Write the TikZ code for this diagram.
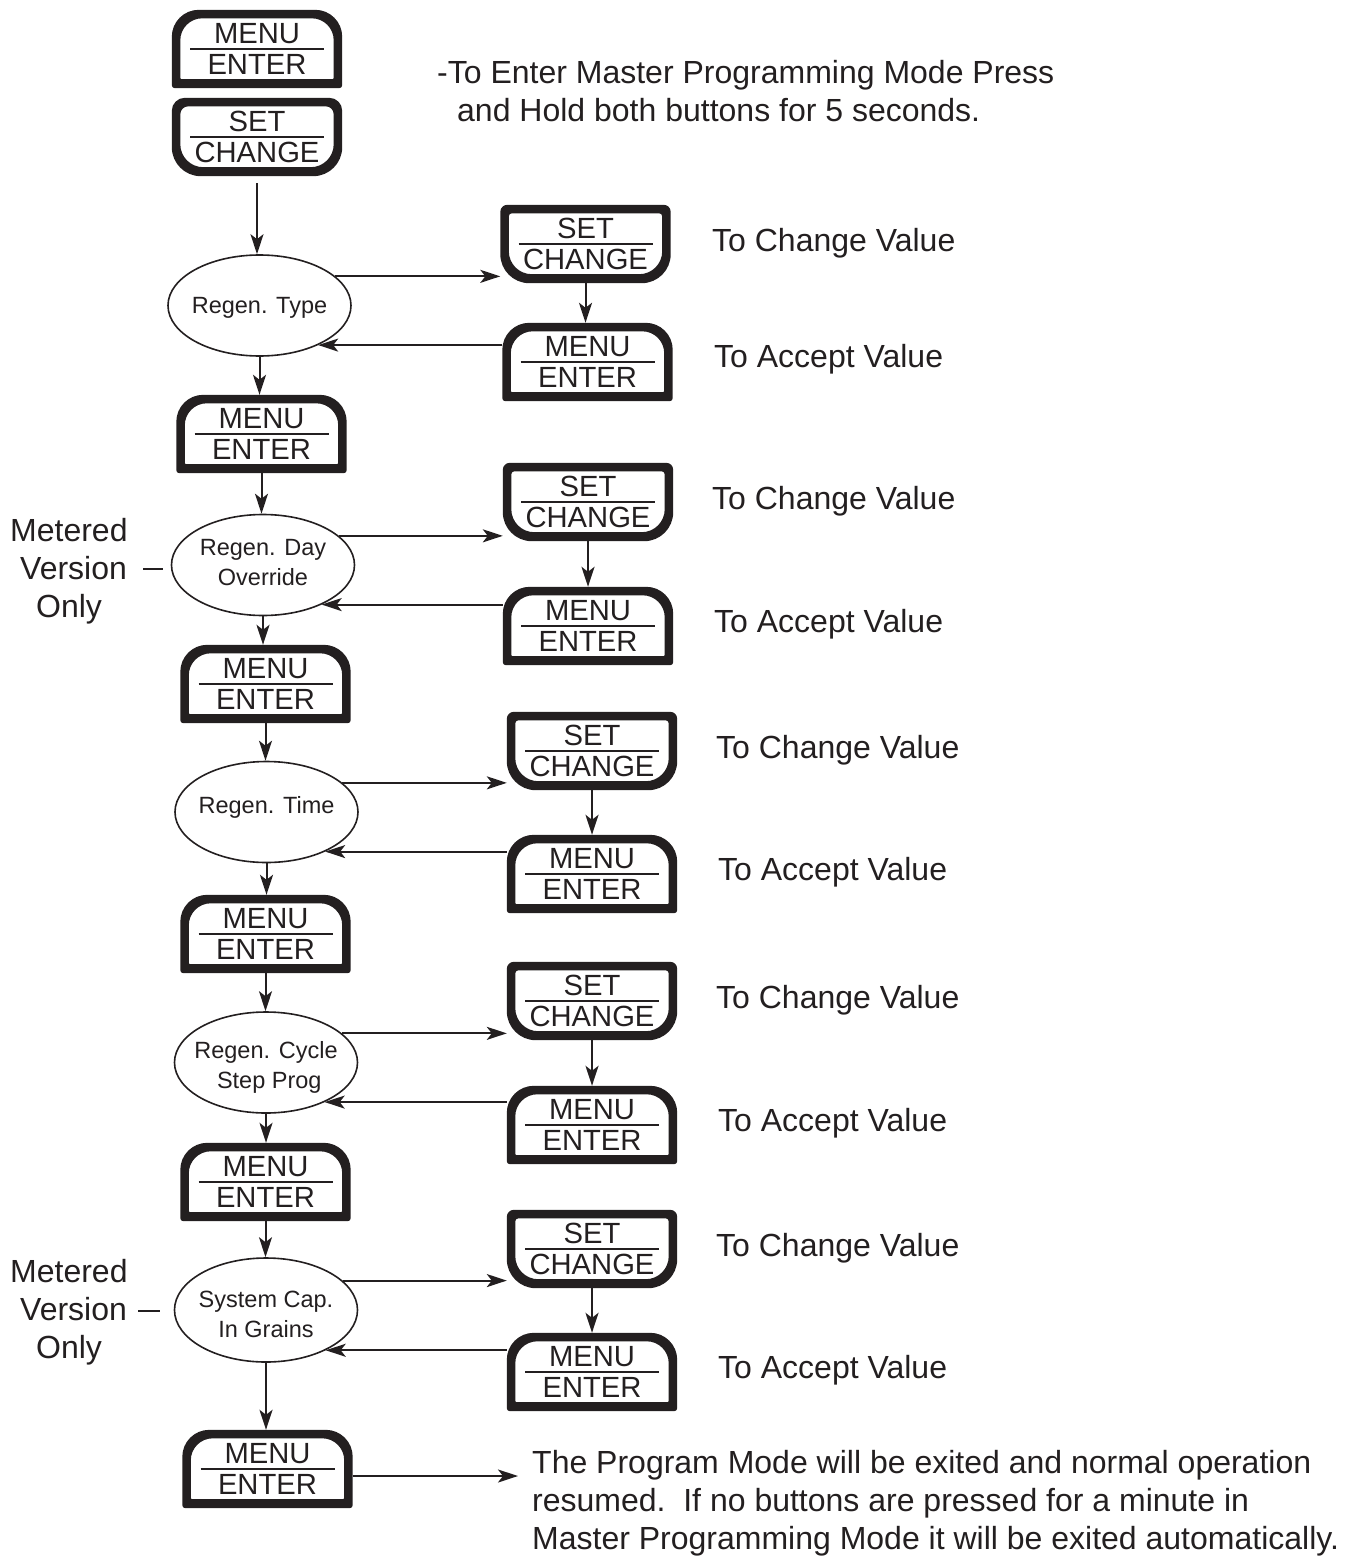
\documentclass[tikz,border=0pt]{standalone}
\usepackage{fontspec}
\setmainfont{Liberation Sans}
\usetikzlibrary{shapes.geometric,arrows.meta}
\definecolor{ink}{RGB}{35,31,32}

\tikzset{
 btn/.style={minimum width=170pt, minimum height=78pt, inner sep=0pt, draw=none},
 btxt/.style={font=\fontsize{29.2}{30}\selectfont, text=ink, inner sep=0pt, anchor=base},
 oval/.style={ellipse, draw=ink, line width=1.6pt, minimum width=183pt, minimum height=101pt, inner sep=0pt},
 otxt/.style={font=\fontsize{23.5}{30}\selectfont, text=ink, align=center, inner sep=0pt},
 note/.style={font=\fontsize{32}{38}\selectfont, text=ink, inner sep=0pt, anchor=base west},
 arr/.style={draw=ink, line width=2pt, -{Stealth[length=20pt,width=13pt,inset=5pt]}},
 plain/.style={draw=ink, line width=2pt},
}

% button frame (image coordinates, y down): #1 node, #2/#3 outer top/bottom radius, #4/#5 inner top/bottom radius
\newcommand\frameX[5]{%
 \fill[ink, even odd rule]
  ([shift={(0,#2)}]#1.north west) arc[start angle=180,end angle=270,radius=#2]
   -- ([shift={(-#2,0)}]#1.north east) arc[start angle=270,end angle=360,radius=#2]
   -- ([shift={(0,-#3)}]#1.south east) arc[start angle=0,end angle=90,radius=#3]
   -- ([shift={(#3,0)}]#1.south west) arc[start angle=90,end angle=180,radius=#3]
   -- cycle
  ([shift={(8.5,8.5+#4)}]#1.north west) arc[start angle=180,end angle=270,radius=#4]
   -- ([shift={(-8.5-#4,8.5)}]#1.north east) arc[start angle=270,end angle=360,radius=#4]
   -- ([shift={(-8.5,-9-#5)}]#1.south east) arc[start angle=0,end angle=90,radius=#5]
   -- ([shift={(8.5+#5,-9)}]#1.south west) arc[start angle=90,end angle=180,radius=#5]
   -- cycle;}

\newcommand\btnM[3]{%
 \node[btn] (#1) at (#2,#3) {};
 \frameX{#1}{27}{3}{22}{1}
 \node[btxt] (#1-a) at ([shift={(0,34)}]#1.north) {MENU};
 \node[btxt] (#1-b) at ([shift={(0,65)}]#1.north) {ENTER};
 \draw[plain] ([shift={(-67,39.5)}]#1.north) -- ([shift={(67,39.5)}]#1.north);}
% #4 = outer top radius, #5 = inner top radius
\newcommand\btnS[5]{%
 \node[btn] (#1) at (#2,#3) {};
 \frameX{#1}{#4}{29}{#5}{23}
 \node[btxt] (#1-a) at ([shift={(0,34)}]#1.north) {SET};
 \node[btxt] (#1-b) at ([shift={(0,65)}]#1.north) {CHANGE};
 \draw[plain] ([shift={(-67,39.5)}]#1.north) -- ([shift={(67,39.5)}]#1.north);}

\begin{document}
\begin{tikzpicture}[x=1pt,y=-1pt]
\useasboundingbox (0,0) rectangle (1358,1557);

% left column
\btnM{B0}{257}{49}
\btnS{Bs0}{257}{137}{13}{8}
\node[oval] (E1) at (259.5,305.5) {};
\node[otxt] (E1t) at (259.5,307.5) {Regen. Type};
\btnM{B1}{261.5}{434}
\node[oval] (E2) at (263,565) {};
\node[otxt] (E2t) at (263,563) {Regen. Day\\Override};
\btnM{B2}{265.5}{684}
\node[oval] (E3) at (266.5,812) {};
\node[otxt] (E3t) at (266.5,807.5) {Regen. Time};
\btnM{B3}{265.5}{934}
\node[oval] (E4) at (266,1062.5) {};
\node[otxt] (E4t) at (266,1067.5) {Regen. Cycle\\\ Step Prog};
\btnM{B4}{265.5}{1182}
\node[oval, minimum height=104pt] (E5) at (266,1310) {};
\node[otxt] (E5t) at (266,1314.5) {System Cap.\\In Grains};
\btnM{B5}{267.5}{1469}

% right column
\btnS{S1}{585.5}{244}{7}{3}
\btnM{M1}{587.5}{362}
\btnS{S2}{588}{502}{7}{3}
\btnM{M2}{588}{626}
\btnS{S3}{592}{751}{7}{3}
\btnM{M3}{592}{874}
\btnS{S4}{592}{1001}{7}{3}
\btnM{M4}{592}{1125}
\btnS{S5}{592}{1249}{7}{3}
\btnM{M5}{592}{1372}

% vertical connectors, left column
\draw[arr, shorten <=7pt] (Bs0.south) -- (Bs0.south |- E1.north);
\draw[arr] (E1.south) -- (E1.south |- B1.north);
\draw[arr] (B1.south) -- (B1.south |- E2.north);
\draw[arr] (E2.south) -- (E2.south |- B2.north);
\draw[arr] (B2.south) -- (B2.south |- E3.north);
\draw[arr] (E3.south) -- (E3.south |- B3.north);
\draw[arr] (B3.south) -- (B3.south |- E4.north);
\draw[arr] (E4.south) -- (E4.south |- B4.north);
\draw[arr] (B4.south) -- (B4.south |- E5.north);
\draw[arr] (E5.south) -- (E5.south |- B5.north);

% row connectors
\foreach \e/\s/\m in {E1/S1/M1,E2/S2/M2,E3/S3/M3,E4/S4/M4,E5/S5/M5}{
  \draw[arr] (\e.21) -- (\s.west |- \e.21);
  \draw[arr] (\m.west |- \e.-34) -- (\e.-34);
  \draw[arr] (\s.south) -- (\s.south |- \m.north);
}

% exit arrow
\coordinate (exitpt) at (518,1476);
\draw[arr] (B5.east |- exitpt) -- (exitpt);

% notes
\node[note] (n1) at (437,84) {-To Enter Master Programming Mode Press};
\node[note] (n2) at (457,122) {and Hold both buttons for 5 seconds.};

\node[note] (c1) at (712,251) {To Change Value};
\node[note] (a1) at (714,367) {To Accept Value};
\node[note] (c2) at (712,509) {To Change Value};
\node[note] (a2) at (714,632) {To Accept Value};
\node[note] (c3) at (716,758) {To Change Value};
\node[note] (a3) at (718,880) {To Accept Value};
\node[note] (c4) at (716,1008) {To Change Value};
\node[note] (a4) at (718,1131) {To Accept Value};
\node[note] (c5) at (716,1256) {To Change Value};
\node[note] (a5) at (718,1378) {To Accept Value};

\node[note] (m1) at (10,541) {Metered};
\node[note] (m2) at (20,579) {Version};
\node[note] (m3) at (36,617) {Only};
\coordinate (d1a) at (143,569);
\coordinate (d1b) at (163,569);
\draw[plain] (d1a) -- (d1b);

\node[note] (m4) at (10,1282) {Metered};
\node[note] (m5) at (20,1320) {Version};
\node[note] (m6) at (36,1358) {Only};
\coordinate (d2a) at (138,1311);
\coordinate (d2b) at (160,1311);
\draw[plain] (d2a) -- (d2b);

\node[note] (x1) at (532,1473) {The Program Mode will be exited and normal operation};
\node[note] (x2) at (532,1511) {resumed.\ \ If no buttons are pressed for a minute in};
\node[note] (x3) at (532,1549) {Master Programming Mode it will be exited automatically.};
\end{tikzpicture}
\end{document}
